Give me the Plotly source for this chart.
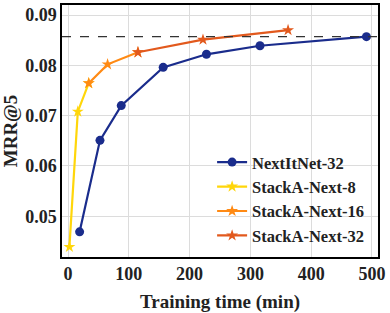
import plotly.graph_objects as go

# Data
nextitnet_x = [19, 52.5, 87.5, 156.5, 227.7, 315.8, 491]
nextitnet_y = [0.0469, 0.0651, 0.0720, 0.0796, 0.0822, 0.0839, 0.0857]

s8_x = [2.2, 16, 34]
s8_y = [0.0439, 0.0708, 0.07645]

s16_x = [34, 65, 115]
s16_y = [0.07645, 0.0802, 0.0826]

s32_x = [115, 222, 362]
s32_y = [0.0826, 0.0851, 0.0870]

ref_line = 0.0857

x_ticks = [0, 100, 200, 300, 400, 500]
y_ticks = [0.05, 0.06, 0.07, 0.08, 0.09]

FONT = "Liberation Serif"
BLUE = "#1a2c8c"
YELLOW = "#ffd60a"
ORANGE = "#ff8a14"
RED = "#e2591d"

fig = go.Figure()
fig.add_trace(go.Scatter(x=nextitnet_x, y=nextitnet_y, mode="lines+markers", name="NextItNet-32",
                         line=dict(color=BLUE, width=2.2), marker=dict(symbol="circle", size=9, color=BLUE)))
fig.add_trace(go.Scatter(x=s8_x, y=s8_y, mode="lines+markers", name="StackA-Next-8",
                         line=dict(color=YELLOW, width=2.2), marker=dict(symbol="star", size=9, color=YELLOW)))
fig.add_trace(go.Scatter(x=s16_x, y=s16_y, mode="lines+markers", name="StackA-Next-16",
                         line=dict(color=ORANGE, width=2.2), marker=dict(symbol="star", size=9, color=ORANGE)))
fig.add_trace(go.Scatter(x=s32_x, y=s32_y, mode="lines+markers", name="StackA-Next-32",
                         line=dict(color=RED, width=2.2), marker=dict(symbol="star", size=9, color=RED)))

fig.add_shape(type="line", xref="paper", x0=0, x1=1, yref="y", y0=ref_line, y1=ref_line,
              line=dict(color="#333333", width=1.2, dash="dash"))

fig.update_layout(
    width=390, height=313,
    margin=dict(l=62, r=12, t=3, b=56),
    paper_bgcolor="white", plot_bgcolor="white",
    font=dict(family=FONT, size=18, color="#222222"),
    showlegend=True,
    legend=dict(x=0.475, y=0.445, xanchor="left", yanchor="top", bgcolor="rgba(0,0,0,0)",
                font=dict(family=FONT, size=16.5, color="#222222", weight="bold"),
                tracegroupgap=0, itemwidth=30),
)
axis_common = dict(showline=True, linecolor="black", linewidth=1.5, mirror=True,
                   showgrid=True, gridcolor="#dcdcdc", gridwidth=1.2, zeroline=False,
                   ticks="", tickfont=dict(family=FONT, size=18, color="#222222", weight="bold"))
fig.update_xaxes(range=[-10, 510], tickvals=x_ticks, ticktext=[str(v) for v in x_ticks],
                 title=dict(text="Training time (min)", font=dict(family=FONT, size=19, color="#222222", weight="bold"), standoff=12),
                 **axis_common)
fig.update_yaxes(range=[0.0419, 0.0920], tickvals=y_ticks, ticktext=[f"{v:.2f}" for v in y_ticks],
                 title=dict(text="MRR@5", font=dict(family=FONT, size=19, color="#222222", weight="bold"), standoff=6),
                 **axis_common)

fig.write_html("out.html", config={"displayModeBar": False},
               post_script="document.body.style.margin='0';document.body.style.padding='0';")
